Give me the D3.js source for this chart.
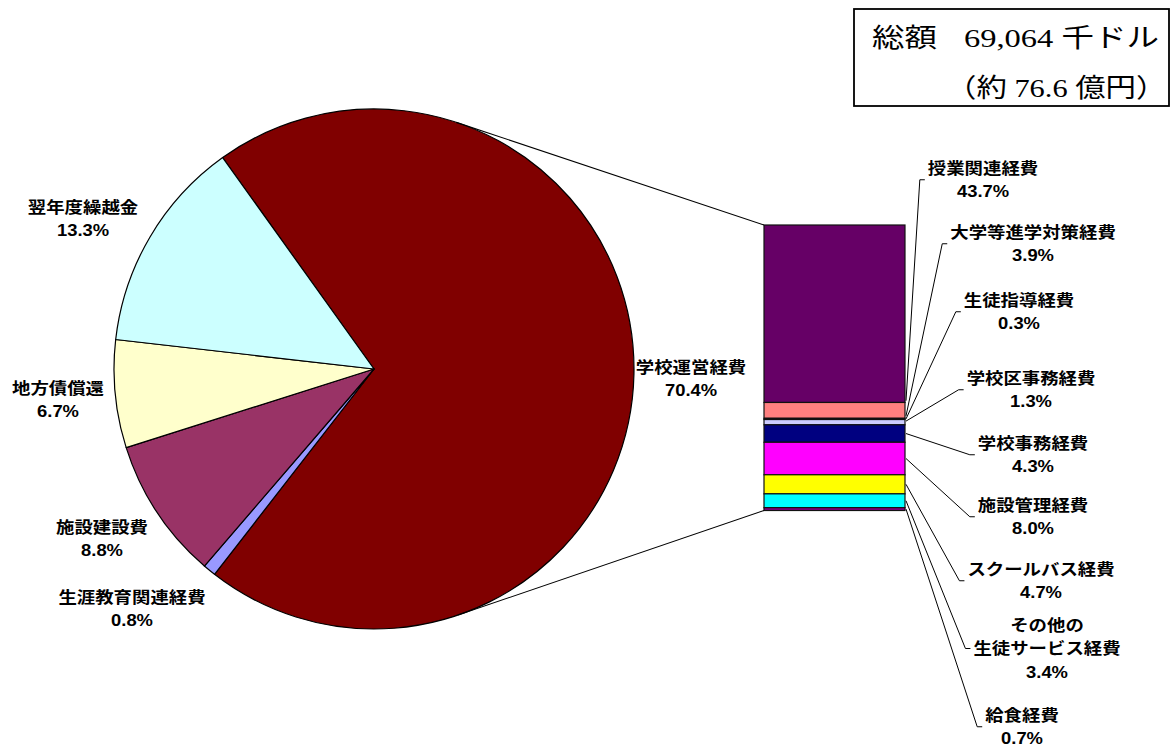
<!DOCTYPE html>
<html><head><meta charset="utf-8">
<script src="https://cdn.jsdelivr.net/npm/d3@7"></script>
<style>
html,body{margin:0;padding:0;background:#fff;}
svg{display:block;}
</style></head>
<body>
<svg id="chart" width="1171" height="747"></svg>
<script>
// ---- data ----
const pieCategories = ["学校運営経費", "生涯教育関連経費", "施設建設費", "地方債償還", "翌年度繰越金"];
const pieValues = [70.4, 0.8, 8.8, 6.7, 13.3];
const pieColors = ["#800000", "#9999FF", "#993366", "#FFFFCC", "#CCFFFF"];

const barCategories = ["授業関連経費", "大学等進学対策経費", "生徒指導経費", "学校区事務経費", "学校事務経費",
  "施設管理経費", "スクールバス経費", "その他の\n生徒サービス経費", "給食経費"];
const barValues = [43.7, 3.9, 0.3, 1.3, 4.3, 8.0, 4.7, 3.4, 0.7];
const barColors = ["#660066", "#FF8080", "#0066CC", "#CCCCFF", "#000080", "#FF00FF", "#FFFF00", "#00FFFF", "#800080"];

const totalLine1 = ["総額", "69,064 千ドル"];
const totalLine2 = "（約 76.6 億円）";

// ---- layout ----
const W = 1171, H = 747;
const cx = 374, cy = 369, R = 260;
const rotationDeg = -35.6;
const barX0 = 764, barX1 = 905, barTop = 225, barBottom = 510.5;
const SX = 1.15; // horizontal stretch of label text
const lineH = 23.5;

// label centers (x, y of first line)
const pieLabelPos = [[691, 367], [132, 597], [102, 527], [58, 388], [83, 207]];
const barLabelPos = [[983, 168], [1033, 232], [1019, 300], [1031, 378], [1033, 443],
  [1033, 505], [1041, 569], [1047, 625], [1022, 715]];
// where along each segment the leader line lands (0 top .. 1 bottom)
const leaderAnchor = [0.99, 0.85, 0.5, 0.3, 0.5, 0.5, 0.5, 0.5, 0.5];

const svg = d3.select("#chart");
const fmt = v => d3.format(".1f")(v) + "%";

// ---- pie ----
const rot = rotationDeg * Math.PI / 180;
const pie = d3.pie().sort(null).value(d => d).startAngle(rot).endAngle(rot + 2 * Math.PI);
const arcs = pie(pieValues);
const arc = d3.arc().innerRadius(0).outerRadius(R);
const gPie = svg.append("g").attr("transform", `translate(${cx},${cy})`);
gPie.selectAll("path").data(arcs).join("path")
  .attr("d", arc)
  .attr("fill", (d, i) => pieColors[i])
  .attr("stroke", "#000").attr("stroke-width", 1.2).attr("stroke-linejoin", "round");

// ---- bar (stacked) ----
const barTotal = d3.sum(barValues);
const y = d3.scaleLinear().domain([0, barTotal]).range([barTop, barBottom]);
const x = d3.scaleLinear().domain([0, 1]).range([barX0, barX1]);
const cum = d3.cumsum(barValues);
const segs = barValues.map((v, i) => ({ v, i, y0: cum[i] - v, y1: cum[i] }));
svg.append("g").selectAll("rect").data(segs).join("rect")
  .attr("x", x(0)).attr("width", x(1) - x(0))
  .attr("y", d => y(d.y0)).attr("height", d => y(d.y1) - y(d.y0))
  .attr("fill", d => barColors[d.i])
  .attr("stroke", "#111").attr("stroke-width", 1.2);

// ---- connector lines (tangents from bar corners to pie) ----
function tangentPoint(px, py, upper) {
  const dx = px - cx, dy = py - cy;
  const d = Math.hypot(dx, dy);
  const base = Math.atan2(dy, dx);
  const off = Math.acos(R / d);
  const a = upper ? base - off : base + off;
  return [cx + R * Math.cos(a), cy + R * Math.sin(a)];
}
const cTop = [x(0), y(0)], cBot = [x(0), y(barTotal)];
const tTop = tangentPoint(cTop[0], cTop[1], true);
const tBot = tangentPoint(cBot[0], cBot[1], false);
svg.append("g").selectAll("line").data([[tTop, cTop], [tBot, cBot]]).join("line")
  .attr("x1", d => d[0][0]).attr("y1", d => d[0][1])
  .attr("x2", d => d[1][0]).attr("y2", d => d[1][1])
  .attr("stroke", "#000").attr("stroke-width", 1.1);

// ---- label helper ----
const labelFont = "'Liberation Sans', Arial, 'Noto Sans CJK JP', sans-serif";
function drawLabel(g, lines, px, py) {
  const grp = g.append("g").attr("transform", `translate(${px},${py}) scale(${SX},1)`);
  lines.forEach((t, k) => {
    grp.append("text").attr("x", 0).attr("y", k * lineH).attr("dy", "0.36em")
      .attr("text-anchor", "middle")
      .attr("font-family", labelFont).attr("font-weight", "bold").attr("font-size", 16)
      .attr("fill", "#000").text(t);
  });
  return grp;
}

const gLab = svg.append("g");
pieCategories.forEach((c, i) => {
  drawLabel(gLab, c.split("\n").concat([fmt(pieValues[i])]), pieLabelPos[i][0], pieLabelPos[i][1]);
});

// ---- bar labels and leader lines ----
const gLead = svg.append("g");
barCategories.forEach((c, i) => {
  const lines = c.split("\n").concat([fmt(barValues[i])]);
  const [lx, ly] = barLabelPos[i];
  const grp = drawLabel(gLab, lines, lx, ly);
  let maxW = 0;
  grp.selectAll("text").each(function () { maxW = Math.max(maxW, this.getComputedTextLength()); });
  const left = lx - maxW * SX / 2;
  const tickY = ly + (lines.length - 1) * lineH / 2;
  const tickX1 = left - 3, tickX0 = tickX1 - 5;
  const s = segs[i];
  const ay = y(s.y0) + (y(s.y1) - y(s.y0)) * leaderAnchor[i];
  gLead.append("polyline")
    .attr("points", `${x(1) + 1},${ay} ${tickX0},${tickY} ${tickX1},${tickY}`)
    .attr("fill", "none").attr("stroke", "#000").attr("stroke-width", 1);
});

// ---- total box ----
const gBox = svg.append("g");
gBox.append("rect").attr("x", 854).attr("y", 9).attr("width", 315).attr("height", 97)
  .attr("fill", "#fff").attr("stroke", "#000").attr("stroke-width", 1.8);
const boxFont = "'Liberation Serif', 'Times New Roman', 'Noto Sans CJK JP', serif";
const BFS = 26;
gBox.append("g").attr("transform", `translate(872,47) scale(1.25,1)`)
  .append("text").attr("x", 0).attr("font-family", boxFont).attr("font-size", BFS).text(totalLine1[0]);
gBox.append("g").attr("transform", `translate(964,47) scale(1.25,1)`)
  .append("text").attr("x", 0).attr("font-family", boxFont).attr("font-size", BFS).text(totalLine1[1]);
gBox.append("g").attr("transform", `translate(946,97) scale(1.17,1)`)
  .append("text").attr("x", 0).attr("font-family", boxFont).attr("font-size", BFS).text(totalLine2);
</script>
</body></html>
